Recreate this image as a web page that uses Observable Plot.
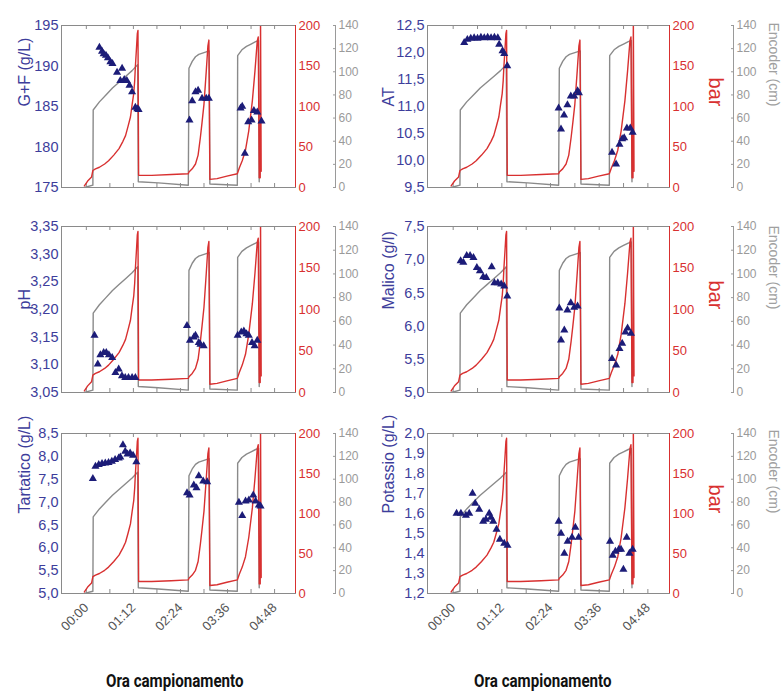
<!DOCTYPE html>
<html><head><meta charset="utf-8">
<script src="https://cdn.jsdelivr.net/npm/d3@7"></script>
<script src="https://cdn.jsdelivr.net/npm/@observablehq/plot@0.6"></script>
<style>
body{margin:0;background:#fff;}
#chart{position:relative;width:782px;height:693px;overflow:hidden;background:#fff;font-family:"Liberation Sans",Arial,sans-serif;}
.xt{position:absolute;top:672px;width:220px;height:20px;line-height:18px;text-align:center;}
.xt span{display:inline-block;transform:scaleX(0.84);font-family:Roboto,"Liberation Sans",sans-serif;font-weight:bold;font-size:18px;line-height:18px;color:#111;}
</style></head><body><div id="chart"></div>
<script>
// ---- shared axes ----
const timeTicks = [0, 72, 144, 216, 288];
const timeLabels = ["00:00", "01:12", "02:24", "03:36", "04:48"];
const minorTimeTicks = [0, 36, 72, 108, 144, 180, 216, 252, 288];
const timeDomain = [-38, 320];
const barTicks = [0, 50, 100, 150, 200];
const encoderTicks = [0, 20, 40, 60, 80, 100, 120, 140];
const xTitle = "Ora campionamento";

// ---- press cycles (minutes, bar) ----
const pressure = [[-3,2],[2,8],[8,13],[10,21],[14,23],[20,25],[28,29],[34,33],[42,40],[50,48],[56,57],[60,64],[64,76],[67.5,87],[70,102],[72.5,116],[74,132],[75,149],[76.5,169],[78,190],[79,194],[80,15],
 [100,15],[130,16],[156,17],
 [157,19],[162,23],[167,29],[171,40],[174.5,62],[177,80],[180,103],[183.5,144],[186,175],[187.5,182],[189,10],
 [200,11],[215,14],[231,17],
 [234,24],[238.5,33],[243.5,46],[248.5,70],[254,107],[258,144],[261.5,181],[263,186],[264.5,12],[266,12],[266.5,210],[267.5,20]];
// ---- encoder (minutes, cm) ----
const encoder = [[-3,0],[10,2],[10.5,67],[20,74],[30,80],[40,86],[50,91],[60,96],[70,101],[78.5,106],[79.5,5],
 [110,4],[156,2],
 [157,103],[162,109],[167,113],[172,115],[180,116.5],[188,118],[189,3],
 [231,2],
 [231.5,114],[238,119],[245,122],[252,124],[259,126],[263.5,127],[264.5,5]];

// ---- samples (minutes, value) ----
const gfTicks = [175, 180, 185, 190, 195];
const gf = [[20,192.3],[24,191.8],[26.5,191.5],[30,191.3],[33,191.0],[36.8,190.5],[40,190.3],[47,189.2],[52,188.2],[54.7,189.7],[58,188.3],[62,188.2],[66,187.6],[70,186.8],[75,184.9],[78,184.7],[80,184.6],
 [157.8,183.3],[162,185.7],[167,186.8],[171,187.0],[177,186.0],[183.4,186.0],[187.4,186.0],
 [236,184.8],[238.5,185.0],[242.5,179.2],[247.7,183.1],[252.8,183.3],[256.3,184.5],[261.5,184.3],[268,183.2]];
const atTicks = [9.5, 10, 10.5, 11, 11.5, 12, 12.5];
const at = [[16.3,12.18],[21,12.24],[26,12.26],[31,12.27],[36,12.26],[41,12.28],[46,12.27],[51,12.28],[56,12.27],[61,12.28],[66,12.27],[68,12.15],[73,12.03],[75.5,11.98],[80,11.75],
 [156,10.97],[159.5,10.58],[164,10.84],[169,11.03],[174,11.19],[179,11.19],[184,11.29],[186,11.25],
 [235,10.15],[241,9.93],[246,10.3],[250,10.4],[253,10.42],[257,10.6],[262,10.6],[265.5,10.52]];
const phTicks = [3.05, 3.10, 3.15, 3.20, 3.25, 3.30, 3.35];
const ph = [[12.5,3.153],[17.5,3.101],[21.5,3.118],[26.5,3.122],[30.5,3.122],[34.5,3.118],[39.5,3.113],[44.5,3.086],[49.5,3.092],[54.5,3.080],[59.5,3.077],[64.5,3.077],[70,3.077],[75,3.077],
 [154,3.171],[158.5,3.144],[164.5,3.150],[167,3.153],[172,3.140],[174.5,3.137],[179.5,3.134],
 [231.5,3.153],[237,3.159],[241,3.161],[245,3.156],[248.5,3.153],[253.5,3.140],[257.5,3.134],[261.5,3.144]];
const malicoTicks = [5.0, 5.5, 6.0, 6.5, 7.0, 7.5];
const malico = [[11,6.98],[15,6.96],[20,7.06],[25,7.06],[30,7.03],[35,6.88],[39.5,6.83],[44.4,6.74],[49,6.73],[57,6.89],[61,6.65],[66,6.65],[71,6.63],[75.5,6.60],[80,6.45],
 [157,6.27],[159.5,5.79],[164.4,5.94],[169,6.24],[174,6.35],[179,6.28],[184,6.30],
 [235,5.51],[241,5.41],[246,5.66],[250,5.74],[254.7,5.91],[258,5.97],[263,5.89]];
const tartTicks = [5.0, 5.5, 6.0, 6.5, 7.0, 7.5, 8.0, 8.5];
const tartarico = [[10,7.51],[14,7.78],[19,7.82],[24,7.84],[29,7.85],[34,7.86],[39,7.89],[44,7.93],[49.5,7.96],[52,7.98],[56,8.25],[59.5,8.11],[63,8.05],[67,8.07],[71.5,8.02],[76.5,7.88],
 [154,7.20],[158,7.15],[164.4,7.37],[168.5,7.31],[172,7.57],[178.8,7.46],[184.9,7.44],
 [233.4,6.99],[238.5,6.70],[243.6,7.02],[248.7,7.04],[255.4,7.15],[259,7.02],[264,6.93],[266.6,6.91]];
const potTicks = [1.2, 1.3, 1.4, 1.5, 1.6, 1.7, 1.8, 1.9, 2.0];
const potassio = [[5,1.60],[11.4,1.60],[18.8,1.59],[23.7,1.60],[28.6,1.70],[32.6,1.65],[38.5,1.62],[44.4,1.56],[48.4,1.57],[53.3,1.60],[55.8,1.58],[59.2,1.56],[64.1,1.52],[69.1,1.47],[75.5,1.45],[80.4,1.44],
 [156,1.56],[159.5,1.50],[164.4,1.40],[169.3,1.46],[175.8,1.48],[180.7,1.53],[185.6,1.48],
 [232,1.46],[236,1.39],[240,1.41],[245,1.42],[248.3,1.42],[251.8,1.32],[256.7,1.48],[260.7,1.40],[265.5,1.42]];

const panels = [
  {col:0,row:0,label:"G+F (g/L)",ticks:gfTicks,data:gf,dec:0},
  {col:1,row:0,label:"AT",ticks:atTicks,data:at,dec:1},
  {col:0,row:1,label:"pH",ticks:phTicks,data:ph,dec:2},
  {col:1,row:1,label:"Malico (g/l)",ticks:malicoTicks,data:malico,dec:1},
  {col:0,row:2,label:"Tartatico (g/L)",ticks:tartTicks,data:tartarico,dec:1},
  {col:1,row:2,label:"Potassio (g/L)",ticks:potTicks,data:potassio,dec:1}
];

// ---- layout (label positions relative to each panel's svg) ----
const rows = [{top:0,mt:25,fh:162,mb:10},{top:200,mt:26,fh:166,mb:8},{top:405,mt:28,fh:160,mb:60}];
const cols = [{left:0,w:391,ml:61,fw:234,greyOff:40,labelX:24},{left:355,w:427,ml:72,fw:242,greyOff:64,labelX:33}];
const BLUE="#3d3d9b", NAVY="#1c1c78", RED="#d83030", GREY="#8c8c8c";

const root = document.getElementById("chart");
for (const p of panels) {
  const c = cols[p.col], r = rows[p.row];
  const lo = p.ticks[0], hi = p.ticks[p.ticks.length-1], span = hi-lo;
  const fromBar = v => lo + v/200*span, toBar = y => (y-lo)/span*200;
  const fromEnc = v => lo + v/140*span, toEnc = y => (y-lo)/span*140;
  const tl = 4/r.fh*span;
  const fmt = d => d.toFixed(p.dec).replace(".", ",");
  const marks = [
    Plot.ruleX(minorTimeTicks,{y1:()=>lo,y2:()=>lo+tl,stroke:GREY}),
    Plot.ruleX(minorTimeTicks,{y1:()=>hi,y2:()=>hi-tl,stroke:GREY}),
    Plot.line(encoder,{x:d=>d[0],y:d=>fromEnc(d[1]),stroke:"#8a8a8a",strokeWidth:1.4,clip:true}),
    Plot.line(pressure,{x:d=>d[0],y:d=>fromBar(d[1]),stroke:RED,strokeWidth:1.4,clip:true}),
    Plot.dot(p.data,{x:d=>d[0],y:d=>d[1],symbol:"triangle",r:3,fill:NAVY}),
    Plot.frame({stroke:"#8a8a8a"}),
    Plot.ruleX([timeDomain[1]],{stroke:RED}),
    Plot.axisY(p.ticks,{anchor:"left",tickSize:0,tickPadding:3,tickFormat:fmt,color:BLUE,fontSize:14.5}),
    Plot.axisY(barTicks.map(fromBar),{anchor:"right",tickSize:0,tickPadding:3,tickFormat:d=>String(Math.round(toBar(d))),color:RED,fontSize:13}),
    Plot.axisY(encoderTicks.map(fromEnc),{anchor:"right",dx:c.greyOff-3,tickSize:3,tickPadding:3,tickFormat:d=>String(Math.round(toEnc(d))),color:"#9a9a9a",fontSize:12}),
    Plot.ruleX([timeDomain[1]],{dx:c.greyOff,stroke:"#9a9a9a"}),
    Plot.text([p.label],{frameAnchor:"left",dx:c.labelX-c.ml,rotate:-90,fill:BLUE,fontSize:16})
  ];
  if (p.col === 1) {
    marks.push(Plot.text(["bar"],{frameAnchor:"right",dx:46,rotate:90,fill:RED,fontSize:20}));
    marks.push(Plot.text(["Encoder (cm)"],{frameAnchor:"right",dx:104,rotate:90,fill:"#a0a0a0",fontSize:14}));
  }
  if (p.row === 2) {
    marks.push(Plot.axisX(timeTicks,{tickFormat:d=>timeLabels[timeTicks.indexOf(d)],tickRotate:-45,tickSize:0,tickPadding:12,fontSize:13,color:"#555"}));
  }
  const svg = Plot.plot({
    width:c.w, height:r.mt+r.fh+r.mb,
    marginLeft:c.ml, marginRight:c.w-c.ml-c.fw, marginTop:r.mt, marginBottom:r.mb,
    x:{domain:timeDomain, axis:null},
    y:{domain:[lo,hi], axis:null},
    style:{background:"transparent",overflow:"visible",fontFamily:"'Liberation Sans',Arial,sans-serif"},
    marks
  });
  svg.style.position="absolute"; svg.style.left=c.left+"px"; svg.style.top=r.top+"px"; svg.style.maxWidth="none";
  root.appendChild(svg);
}
for (const cx of [175, 543]) {
  const d = document.createElement("div");
  d.className = "xt"; d.style.left = (cx-110)+"px";
  const s = document.createElement("span"); s.textContent = xTitle; d.appendChild(s);
  root.appendChild(d);
}
</script></body></html>
